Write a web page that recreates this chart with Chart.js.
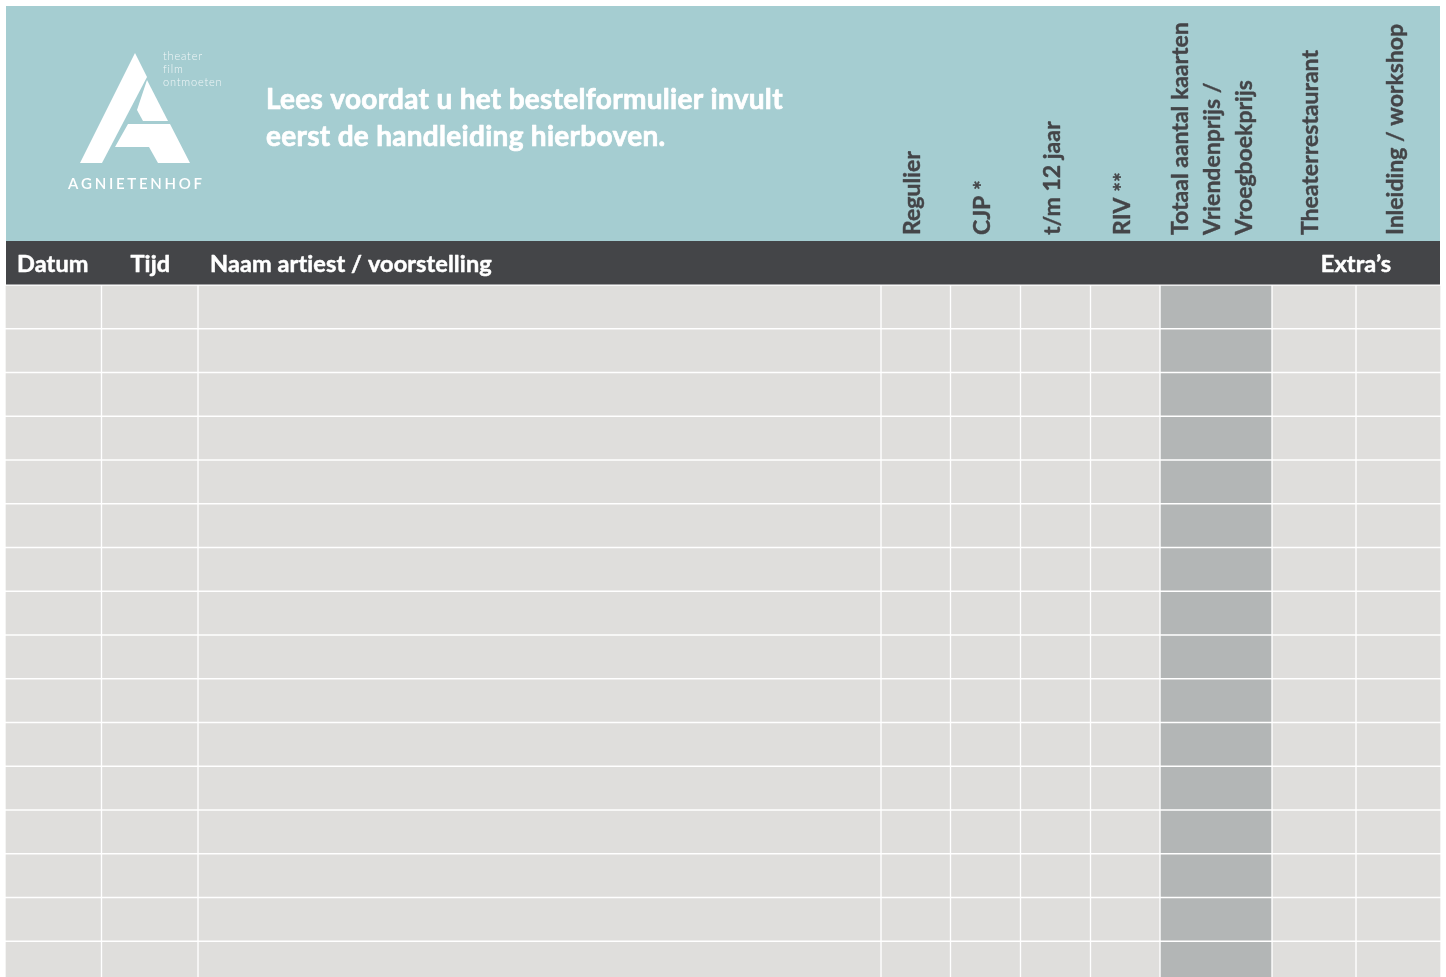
<!DOCTYPE html>
<html>
<head>
<meta charset="utf-8">
<script src="https://cdn.jsdelivr.net/npm/chart.js@4.4.1/dist/chart.umd.min.js"></script>
<style>
  html, body { margin: 0; padding: 0; background: #fff; overflow: hidden; }
  #wrap { width: 1446px; height: 977px; overflow: hidden; position: relative; }
  canvas { display: block; }
</style>
</head>
<body>
<div id="wrap"><canvas id="form" width="1446" height="986"></canvas></div>
<script>
// form columns, left to right
const columns = [
  'Datum', 'Tijd', 'Naam artiest / voorstelling',
  'Regulier', 'CJP *', 't/m 12 jaar', 'RIV **',
  'Totaal aantal kaarten\nVriendenprijs /\nVroegboekprijs',
  'Theaterrestaurant', 'Inleiding / workshop'
];
// relative column widths as read from the form
const columnWidths = [96.5, 96.5, 683, 69.5, 70, 70, 69.5, 112, 84, 85];
// which column is the shaded "totaal" one
const shadedColumn = [false, false, false, false, false, false, false, true, false, false];
const rowLabels = ['1', '2', '3', '4', '5', '6', '7', '8', '9', '10', '11', '12', '13', '14', '15', '16'];
const titleLines = ['Lees voordat u het bestelformulier invult', 'eerst de handleiding hierboven.'];
const extrasLabel = 'Extra\u2019s';
const taglineLines = ['theater', 'film', 'ontmoeten'];
const logoName = 'AGNIETENHOF';

const TEAL = '#a5cdd1';
const DARK = '#444548';
const CELL = '#dfdedc';
const CELL_DARK = '#b3b6b6';
const FONT = 'Lato, "Open Sans", sans-serif';

// cumulative edges for the floating bars
const edges = [0];
columnWidths.forEach(w => edges.push(edges[edges.length - 1] + w));
const total = edges[edges.length - 1];

const datasets = columns.map((name, i) => ({
  label: name,
  data: rowLabels.map(() => [edges[i], edges[i + 1]]),
  backgroundColor: shadedColumn[i] ? CELL_DARK : CELL,
  borderColor: '#ffffff',
  borderWidth: 1,
  borderSkipped: false,
  grouped: false,
  barPercentage: 1,
  categoryPercentage: 1
}));

// draw a string with extra spacing between letters
function spaced(ctx, text, x, y, gap) {
  let cx = x;
  text.split('').forEach(c => { ctx.fillText(c, cx, y); cx += ctx.measureText(c).width + gap; });
}

// heavier text: fill plus a thin stroke in the same colour
function heavy(ctx, text, x, y, w) {
  ctx.lineWidth = w;
  ctx.lineJoin = 'round';
  ctx.strokeStyle = ctx.fillStyle;
  ctx.strokeText(text, x, y);
  ctx.fillText(text, x, y);
}

const headerPlugin = {
  id: 'header',
  beforeDraw(chart) {
    const ctx = chart.ctx;
    const x = chart.scales.x;
    const left = 6, right = 1440;
    ctx.save();
    // teal header + dark label band
    ctx.fillStyle = TEAL;
    ctx.fillRect(left, 6, right - left, 235);
    ctx.fillStyle = DARK;
    ctx.fillRect(left, 241, right - left, 43.5);

    // logo
    ctx.fillStyle = '#ffffff';
    const polys = [
      [[135, 53], [147, 77], [102, 163], [80, 163]],
      [[147, 80], [168, 121], [143, 121], [137, 110]],
      [[128, 124], [170, 124], [190, 163], [158, 163], [149, 147], [115, 147]]
    ];
    polys.forEach(p => {
      ctx.beginPath();
      p.forEach((pt, k) => k ? ctx.lineTo(pt[0], pt[1]) : ctx.moveTo(pt[0], pt[1]));
      ctx.closePath();
      ctx.fill();
    });
    ctx.fillStyle = 'rgba(255,255,255,0.85)';
    ctx.font = '300 11px ' + FONT;
    ctx.textBaseline = 'middle';
    ctx.textAlign = 'left';
    taglineLines.forEach((t, k) => spaced(ctx, t, 163, 56 + k * 13, 0.8));
    ctx.fillStyle = '#ffffff';
    ctx.font = '600 15px ' + FONT;
    const chars = logoName.split('');
    const widths = chars.map(c => ctx.measureText(c).width);
    const sum = widths.reduce((a, b) => a + b, 0);
    spaced(ctx, logoName, 68, 184, (134 - sum) / (chars.length - 1));

    // title
    ctx.font = 'bold 28px ' + FONT;
    ctx.textBaseline = 'alphabetic';
    ctx.letterSpacing = '0.3px';
    titleLines.forEach((t, k) => heavy(ctx, t, 266, 109 + k * 37, 0.7));

    // band labels
    ctx.font = 'bold 23.5px ' + FONT;
    ctx.letterSpacing = '0.1px';
    const bandOffsets = [12, 29, 12];
    for (let i = 0; i < 3; i++) {
      heavy(ctx, columns[i], x.getPixelForValue(edges[i]) + bandOffsets[i], 272, 0.5);
    }
    ctx.textAlign = 'center';
    heavy(ctx, extrasLabel, x.getPixelForValue(edges[9]), 272, 0.5);
    ctx.letterSpacing = '0px';

    // rotated column heads
    ctx.fillStyle = DARK;
    ctx.font = 'bold 23px ' + FONT;
    ctx.textAlign = 'left';
    ctx.textBaseline = 'middle';
    for (let i = 3; i < columns.length; i++) {
      const lines = columns[i].split('\n');
      const mid = (x.getPixelForValue(edges[i]) + x.getPixelForValue(edges[i + 1])) / 2;
      lines.forEach((line, j) => {
        const px = mid - 3 + (j - (lines.length - 1) / 2) * 32;
        ctx.save();
        ctx.translate(px, 235);
        ctx.rotate(-Math.PI / 2);
        heavy(ctx, line, 0, 0, 0.4);
        ctx.restore();
      });
    }
    ctx.restore();
  }
};

new Chart(document.getElementById('form').getContext('2d'), {
  type: 'bar',
  data: { labels: rowLabels, datasets: datasets },
  options: {
    indexAxis: 'y',
    responsive: false,
    animation: false,
    devicePixelRatio: 1,
    layout: { padding: { top: 285, left: 5, right: 5, bottom: 1 } },
    scales: {
      x: { type: 'linear', min: 0, max: total, display: false },
      y: { display: false }
    },
    plugins: { legend: { display: false }, tooltip: { enabled: false } }
  },
  plugins: [headerPlugin]
});
</script>
</body>
</html>
